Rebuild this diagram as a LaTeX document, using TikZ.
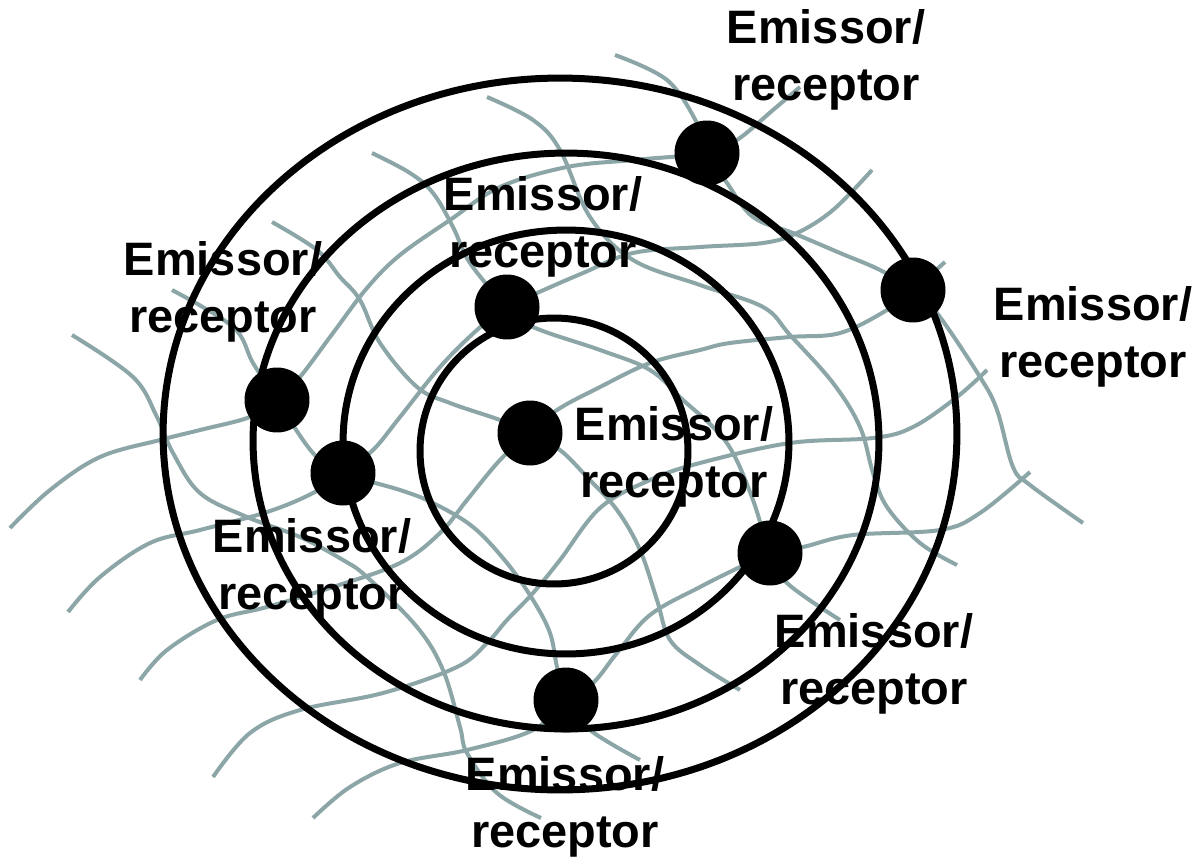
\documentclass[tikz,border=0pt]{standalone}
\usepackage{fontspec}
\setmainfont{Liberation Sans}
\definecolor{meshgray}{RGB}{140,166,168}

\begin{document}
\begin{tikzpicture}[x=0.02cm,y=-0.02cm,
  ring/.style={line width=0.14cm},
  mesh/.style={meshgray,line width=0.08cm},
  dot/.style={circle,fill=black,inner sep=0pt,minimum size=1.3cm},
  lbl/.style={align=center,inner sep=0pt,font=\bfseries\fontsize{26.7}{32.4}\selectfont}]
\fill[white] (0,0) rectangle (1203,862);
\coordinate (P1) at (707,153);
\coordinate (P2) at (913,290);
\coordinate (P3) at (507,307);
\coordinate (P4) at (277,400);
\coordinate (P5) at (530,433);
\coordinate (P6) at (343,473);
\coordinate (P7) at (770,553);
\coordinate (P8) at (566,700);
\draw[mesh] plot[smooth,tension=.6] coordinates {(615,55) (667,80) (697,123) (P1) (727,183) (753,217) (793,233) (840,253) (880,270) (P2) (937,313) (980,377) (997,410) (1013,467) (1030,485) (1083,523)};
\draw[mesh] plot[smooth,tension=.6] coordinates {(487,97) (533,120) (560,150) (590,217) (633,260) (700,285) (763,307) (790,335) (833,383) (860,427) (873,473) (887,507) (920,543) (957,565)};
\draw[mesh] plot[smooth,tension=.6] coordinates {(372,153) (410,173) (433,193) (453,227) (470,263) (P3) (533,327) (600,350) (650,370) (683,400) (713,427) (733,453) (753,500) (P7) (787,583) (840,620)};
\draw[mesh] plot[smooth,tension=.6] coordinates {(272,222) (317,250) (340,277) (360,300) (380,343) (417,387) (450,403) (500,420) (P5) (560,450) (587,477) (617,510) (640,550) (657,600) (670,640) (700,665) (740,690)};
\draw[mesh] plot[smooth,tension=.6] coordinates {(172,290) (233,327) (253,363) (P4) (313,453) (P6) (400,490) (433,503) (473,527) (507,563) (533,600) (550,633) (557,667) (P8) (590,730) (640,760)};
\draw[mesh] plot[smooth,tension=.6] coordinates {(72,335) (133,377) (157,417) (173,453) (200,493) (247,517) (300,537) (343,560) (367,577) (417,627) (443,670) (460,727) (467,753) (497,793) (541,818)};
\draw[mesh] plot[smooth,tension=.6] coordinates {(10,528) (50,490) (100,457) (160,440) (200,430) (250,417) (P4) (300,377) (333,333) (367,288) (400,255) (450,220) (500,187) (567,167) (633,160) (P1) (737,140) (773,110) (800,87)};
\draw[mesh] plot[smooth,tension=.6] coordinates {(68,612) (100,577) (150,543) (200,530) (267,512) (313,493) (P6) (373,450) (400,417) (440,367) (477,330) (P3) (537,293) (583,273) (633,253) (700,247) (763,243) (797,233) (833,210) (872,170)};
\draw[mesh] plot[smooth,tension=.6] coordinates {(140,680) (167,650) (217,620) (267,607) (333,587) (400,563) (440,533) (467,500) (500,460) (P5) (557,410) (600,387) (650,363) (700,350) (730,343) (790,337) (840,333) (887,310) (P2) (945,262)};
\draw[mesh] plot[smooth,tension=.6] coordinates {(213,777) (250,733) (300,710) (383,693) (457,667) (487,643) (507,620) (533,593) (560,560) (600,508) (650,480) (700,463) (790,443) (873,438) (913,427) (957,397) (987,370)};
\draw[mesh] plot[smooth,tension=.6] coordinates {(313,818) (350,787) (400,763) (467,750) (533,730) (P8) (593,683) (617,653) (650,615) (700,587) (740,567) (P7) (803,547) (853,535) (940,530) (980,513) (1030,472)};
\draw[ring] (560,434) ellipse [x radius=7.94cm, y radius=7.12cm];
\draw[ring] (566,441) ellipse [x radius=6.26cm, y radius=5.76cm];
\draw[ring] (566,442) ellipse [x radius=4.46cm, y radius=4.24cm];
\draw[ring] (554,451) ellipse [x radius=2.68cm, y radius=2.66cm];
\draw node [dot] (D1) at (P1) {};
\draw node [dot] (D2) at (P2) {};
\draw node [dot] (D3) at (P3) {};
\draw node [dot] (D4) at (P4) {};
\draw node [dot] (D5) at (P5) {};
\draw node [dot] (D6) at (P6) {};
\draw node [dot] (D7) at (P7) {};
\draw node [dot] (D8) at (P8) {};
\node [lbl] (L1) at (826,60) {Emissor/\\receptor};
\node [lbl] (L2) at (1093,337) {Emissor/\\receptor};
\node [lbl] (L3) at (543,227) {Emissor/\\receptor};
\node [lbl] (L4) at (223,292) {Emissor/\\receptor};
\node [lbl] (L5) at (674,457) {Emissor/\\receptor};
\node [lbl] (L6) at (312,569) {Emissor/\\receptor};
\node [lbl] (L7) at (874,664) {Emissor/\\receptor};
\node [lbl] (L8) at (565,807) {Emissor/\\receptor};
\end{tikzpicture}
\end{document}
